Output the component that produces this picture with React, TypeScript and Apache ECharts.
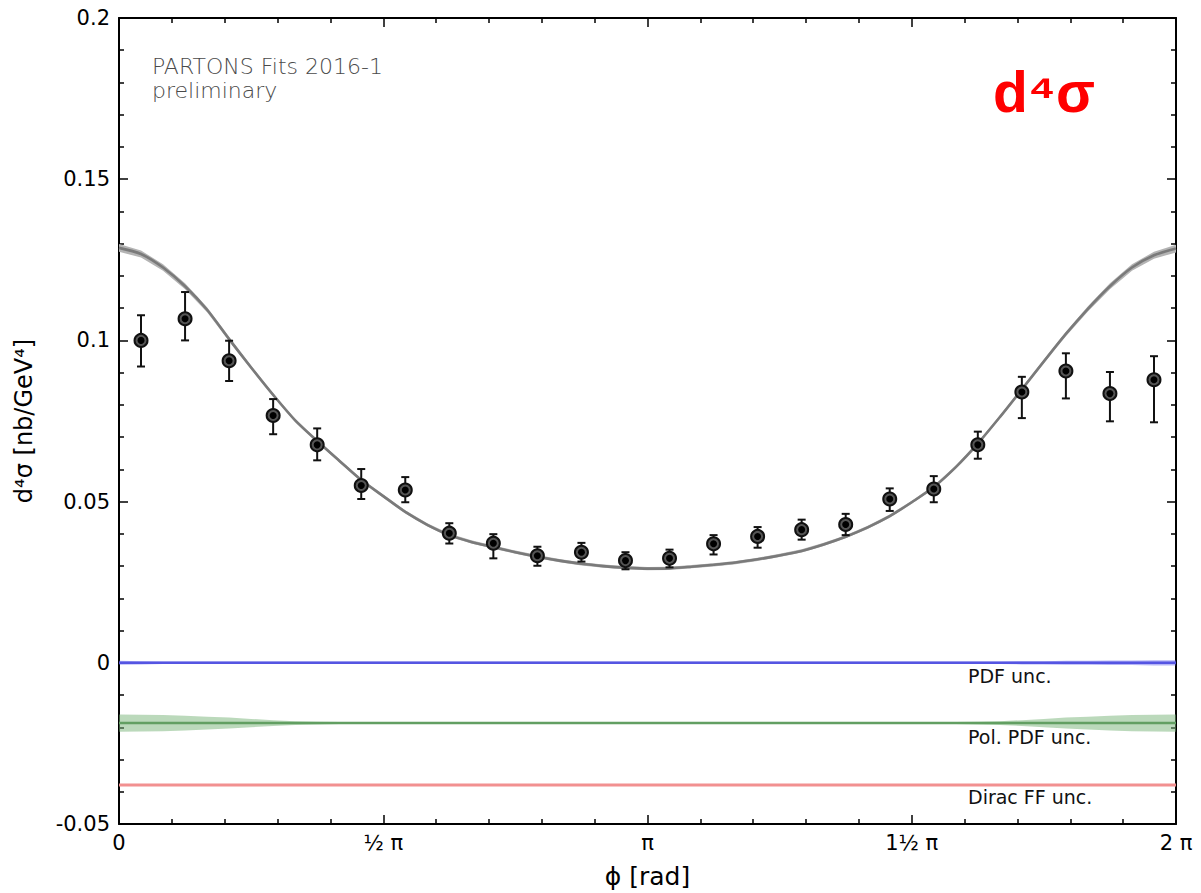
import React, { useEffect, useRef } from "react";
import * as echarts from "echarts";

// ---------- data ----------
const xTickLabels: Record<string, string> = { "0": "0", "90": "½ π", "180": "π", "270": "1½ π", "360": "2 π" };

// measured points (phi in degrees internally; axis shows radians in units of π)
const dataPhiDeg = [7.5, 22.5, 37.5, 52.5, 67.5, 82.5, 97.5, 112.5, 127.5, 142.5, 157.5, 172.5,
  187.5, 202.5, 217.5, 232.5, 247.5, 262.5, 277.5, 292.5, 307.5, 322.5, 337.5, 352.5];
const dataValue = [0.1000, 0.1067, 0.0937, 0.0767, 0.0676, 0.0550, 0.0536, 0.0402, 0.0371, 0.0332, 0.0343, 0.0317,
  0.0324, 0.0369, 0.0392, 0.0413, 0.0429, 0.0508, 0.0539, 0.0676, 0.0840, 0.0905, 0.0835, 0.0878];
const dataLow = [0.0919, 0.1000, 0.0874, 0.0709, 0.0628, 0.0508, 0.0498, 0.0370, 0.0324, 0.0301, 0.0314, 0.0290,
  0.0296, 0.0336, 0.0357, 0.0382, 0.0396, 0.0471, 0.0498, 0.0633, 0.0759, 0.0820, 0.0749, 0.0746];
const dataHigh = [0.1078, 0.1150, 0.0999, 0.0818, 0.0727, 0.0601, 0.0576, 0.0433, 0.0399, 0.0360, 0.0372, 0.0343,
  0.0351, 0.0396, 0.0421, 0.0444, 0.0462, 0.0541, 0.0579, 0.0717, 0.0887, 0.0960, 0.0902, 0.0951];

// fit curve
const curvePhiDeg = [0, 7.5, 15, 22.5, 30, 37.5, 45, 52.5, 60, 67.5, 75, 82.5, 90, 97.5, 105, 112.5, 120, 127.5,
  135, 142.5, 150, 157.5, 165, 172.5, 180, 187.5, 195, 202.5, 210, 217.5, 225, 232.5, 240, 247.5, 255, 262.5,
  270, 277.5, 285, 292.5, 300, 307.5, 315, 322.5, 330, 337.5, 345, 352.5, 360];
const curveValue = [0.1287, 0.1268, 0.1226, 0.1168, 0.1095, 0.1004, 0.0916, 0.0831, 0.0752, 0.0688, 0.0627, 0.0567,
  0.0517, 0.0468, 0.0428, 0.0396, 0.0375, 0.0359, 0.0343, 0.0329, 0.0317, 0.0307, 0.0300, 0.0295, 0.0292,
  0.0293, 0.0298, 0.0304, 0.0311, 0.0321, 0.0333, 0.0347, 0.0367, 0.0391, 0.0420, 0.0455, 0.0498, 0.0545,
  0.0607, 0.0680, 0.0762, 0.0848, 0.0935, 0.1020, 0.1098, 0.1168, 0.1226, 0.1264, 0.1285];
const curveUnc = [0.0012, 0.0011, 0.0010, 0.0009, 0.0008, 0.0007, 0.0006, 0.0005, 0.0005, 0.0005, 0.0005, 0.0005,
  0.0005, 0.0005, 0.0005, 0.0005, 0.0005, 0.0005, 0.0005, 0.0005, 0.0005, 0.0005, 0.0005, 0.0005, 0.0005,
  0.0005, 0.0005, 0.0005, 0.0005, 0.0005, 0.0005, 0.0005, 0.0005, 0.0005, 0.0005, 0.0005, 0.0005, 0.0005,
  0.0005, 0.0005, 0.0005, 0.0005, 0.0006, 0.0007, 0.0008, 0.0009, 0.0010, 0.0011, 0.0012];

// uncertainty bands (offset below the curve)
const pdfCenter = 0;
const pdfUnc = [0.0006, 0.0005, 0.0004, 0.0004, 0.0004, 0.0004, 0.0004, 0.0004, 0.0004, 0.0004, 0.0004, 0.0004,
  0.0004, 0.0004, 0.0004, 0.0004, 0.0004, 0.0004, 0.0004, 0.0004, 0.0004, 0.0004, 0.0004, 0.0004, 0.0004,
  0.0004, 0.0004, 0.0004, 0.0004, 0.0004, 0.0004, 0.0004, 0.0004, 0.0004, 0.0004, 0.0004, 0.0004, 0.0004,
  0.0004, 0.0004, 0.0004, 0.0005, 0.0005, 0.0006, 0.0006, 0.0007, 0.0007, 0.0008, 0.0008];
const polCenter = -0.0187;
const polUnc = [0.0027, 0.0026, 0.0025, 0.0023, 0.0020, 0.0017, 0.0013, 0.0009, 0.0006, 0.0004, 0.0003, 0.0003,
  0.0003, 0.0003, 0.0003, 0.0003, 0.0003, 0.0003, 0.0003, 0.0003, 0.0003, 0.0003, 0.0003, 0.0003, 0.0003,
  0.0003, 0.0003, 0.0003, 0.0003, 0.0003, 0.0003, 0.0003, 0.0003, 0.0003, 0.0003, 0.0003, 0.0003, 0.0003,
  0.0003, 0.0004, 0.0006, 0.0009, 0.0013, 0.0017, 0.0020, 0.0023, 0.0025, 0.0026, 0.0027];
const diracCenter = -0.0379;

const FONT = "DejaVu Sans";

function bandSeries(center: (i: number) => number, unc: number[], fill: string, z: number) {
  return {
    type: "custom",
    silent: true,
    z,
    data: [[0, 0]],
    renderItem: (_p: any, api: any) => {
      const up = curvePhiDeg.map((x, i) => api.coord([x, center(i) + unc[i]]));
      const lo = curvePhiDeg.map((x, i) => api.coord([x, center(i) - unc[i]])).reverse();
      return { type: "polygon", shape: { points: up.concat(lo) }, style: { fill } };
    },
  };
}

function lineSeries(data: number[][], color: string, width: number, z: number, smooth: number | boolean = false) {
  return {
    type: "line",
    data,
    showSymbol: false,
    symbol: "none",
    smooth,
    silent: true,
    z,
    lineStyle: { color, width },
  };
}

export default function App() {
  const ref = useRef<HTMLDivElement>(null);
  useEffect(() => {
    if (!ref.current) return;
    const chart = echarts.init(ref.current, undefined, { renderer: "svg" });
    const tickStyle = { color: "#000", width: 1.5 };
    const axisCommonX = {
      type: "value",
      min: 0,
      max: 360,
      interval: 90,
      axisLine: { show: true, onZero: false, lineStyle: { color: "#000", width: 2 } },
      axisTick: { show: true, inside: true, length: 9, lineStyle: tickStyle },
      minorTick: { show: true, splitNumber: 5, length: 5, lineStyle: tickStyle },
      splitLine: { show: false },
      minorSplitLine: { show: false },
    };
    const axisCommonY = {
      type: "value",
      min: -0.05,
      max: 0.2,
      interval: 0.05,
      axisLine: { show: true, onZero: false, lineStyle: { color: "#000", width: 2 } },
      axisTick: { show: true, inside: true, length: 9, lineStyle: tickStyle },
      minorTick: { show: true, splitNumber: 5, length: 5, lineStyle: tickStyle },
      splitLine: { show: false },
      minorSplitLine: { show: false },
    };
    const option: any = {
      animation: false,
      backgroundColor: "#fff",
      grid: { left: 119, right: 25, top: 18, bottom: 69, containLabel: false, outerBoundsMode: "none" },
      xAxis: [
        {
          ...axisCommonX,
          position: "bottom",
          axisLabel: {
            show: true,
            margin: 8,
            fontSize: 21,
            fontFamily: FONT,
            color: "#000",
            formatter: (v: number) => xTickLabels[String(Math.round(v))] ?? "",
          },
          name: "ϕ [rad]",
          nameLocation: "middle",
          nameGap: 40,
          nameTextStyle: { fontSize: 25, fontFamily: FONT, color: "#000" },
        },
        { ...axisCommonX, position: "top", axisLabel: { show: false } },
      ],
      yAxis: [
        {
          ...axisCommonY,
          position: "left",
          axisLabel: { show: true, margin: 9, fontSize: 21, fontFamily: FONT, color: "#000" },
          name: "d⁴σ [nb/GeV⁴]",
          nameLocation: "middle",
          nameGap: 83,
          nameTextStyle: { fontSize: 24, fontFamily: FONT, color: "#000" },
        },
        { ...axisCommonY, position: "right", axisLabel: { show: false } },
      ],
      graphic: [
        {
          type: "text",
          x: 152,
          y: 54,
          style: {
            text: "PARTONS Fits 2016-1\npreliminary",
            fontSize: 22,
            lineHeight: 24,
            fontFamily: "DejaVu Sans ExtraLight, DejaVu Sans",
            fontWeight: 200,
            fill: "#4a4a4a",
          },
        },
        {
          type: "text",
          x: 993,
          y: 92,
          style: {
            text: "d⁴σ",
            fontSize: 57,
            fontWeight: "bold",
            fontFamily: "Liberation Sans, Arial, sans-serif",
            fill: "#ff0000",
            verticalAlign: "middle",
          },
        },
        { type: "text", x: 968, y: 676, style: { text: "PDF unc.", fontSize: 19, fontFamily: FONT, fill: "#111", verticalAlign: "middle" } },
        { type: "text", x: 968, y: 737, style: { text: "Pol. PDF unc.", fontSize: 19, fontFamily: FONT, fill: "#111", verticalAlign: "middle" } },
        { type: "text", x: 968, y: 797, style: { text: "Dirac FF unc.", fontSize: 19, fontFamily: FONT, fill: "#111", verticalAlign: "middle" } },
      ],
      series: [
        bandSeries(() => pdfCenter, pdfUnc, "rgba(90,90,235,0.45)", 2),
        lineSeries([[0, pdfCenter], [360, pdfCenter]], "#5555e2", 2.5, 3),
        bandSeries(() => polCenter, polUnc, "rgba(120,180,120,0.5)", 2),
        lineSeries([[0, polCenter], [360, polCenter]], "#629f62", 2.5, 3),
        lineSeries([[0, diracCenter], [360, diracCenter]], "#f29090", 3, 3),
        bandSeries((i) => curveValue[i], curveUnc, "#b4b4b4", 4),
        lineSeries(curvePhiDeg.map((x, i) => [x, curveValue[i]]), "#7a7a7a", 2.6, 5, 0.3),
        {
          type: "custom",
          z: 6,
          silent: true,
          data: dataPhiDeg.map((x, i) => [x, dataLow[i], dataHigh[i]]),
          encode: { x: 0, y: [1, 2] },
          renderItem: (_p: any, api: any) => {
            const x = api.value(0);
            const p1 = api.coord([x, api.value(1)]);
            const p2 = api.coord([x, api.value(2)]);
            const cw = 4;
            const style = { stroke: "#111", lineWidth: 2 };
            return {
              type: "group",
              children: [
                { type: "line", shape: { x1: p1[0], y1: p1[1], x2: p2[0], y2: p2[1] }, style },
                { type: "line", shape: { x1: p1[0] - cw, y1: p1[1], x2: p1[0] + cw, y2: p1[1] }, style },
                { type: "line", shape: { x1: p2[0] - cw, y1: p2[1], x2: p2[0] + cw, y2: p2[1] }, style },
              ],
            };
          },
        },
        {
          type: "scatter",
          z: 7,
          silent: true,
          symbol: "circle",
          symbolSize: 13,
          data: dataPhiDeg.map((x, i) => [x, dataValue[i]]),
          itemStyle: { color: "#555", borderColor: "#111", borderWidth: 2, opacity: 1 },
        },
        {
          type: "scatter",
          z: 8,
          silent: true,
          symbol: "circle",
          symbolSize: 7,
          data: dataPhiDeg.map((x, i) => [x, dataValue[i]]),
          itemStyle: { color: "#000", opacity: 1 },
        },
      ],
    };
    chart.setOption(option);
    return () => chart.dispose();
  }, []);
  return <div ref={ref} style={{ position: "fixed", left: 0, top: 0, width: 1201, height: 893, background: "#fff" }} />;
}
